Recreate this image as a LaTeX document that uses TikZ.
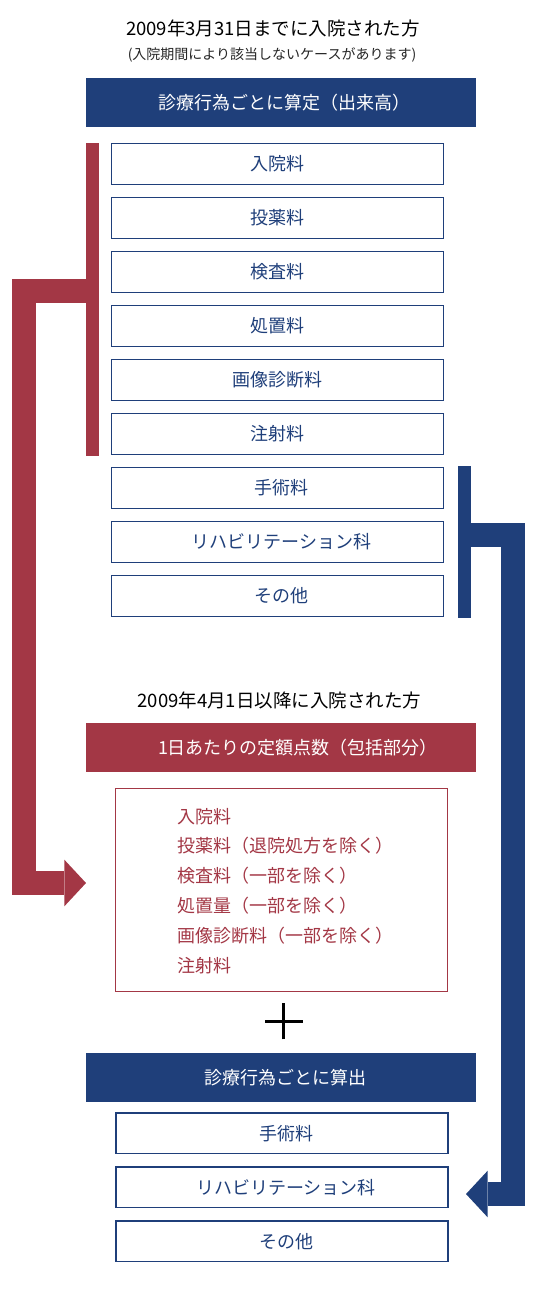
\documentclass[tikz,border=0pt]{standalone}
\usepackage{fontspec}
\setmainfont{Noto Sans CJK JP}
\usetikzlibrary{arrows.meta}
\definecolor{navy}{HTML}{1F3F7A}
\definecolor{wine}{HTML}{A33745}
\begin{document}
\begin{tikzpicture}[x=1pt,y=-1pt,
  hdrbase/.style={rectangle, minimum width=390pt, minimum height=48.7pt, inner sep=0pt, text=white, font=\fontsize{18pt}{21pt}\selectfont},
  bluehdr/.style={hdrbase, fill=navy},
  redhdr/.style={hdrbase, fill=wine},
  itembox/.style={rectangle, draw=navy, line width=1.2pt, minimum width=332pt, minimum height=40.8pt, inner sep=0pt, text=navy, font=\fontsize{18pt}{21pt}\selectfont},
  listline/.style={anchor=west, inner sep=0pt, text=wine, font=\fontsize{18pt}{21pt}\selectfont},
  titletext/.style={inner sep=0pt, text=black, font=\fontsize{18.5pt}{21pt}\selectfont},
  subtext/.style={inner sep=0pt, text=black!85, font=\fontsize{14pt}{17pt}\selectfont},
  barstyle/.style={rectangle, inner sep=0pt, minimum width=13pt},
  bigarrow/.style={line width=24pt, -{Triangle[length=21.7pt, width=46.7pt, line width=0pt]}}
]
\useasboundingbox (0,0) rectangle (542,1290);

% upper section
\node[titletext] (t1) at (273,28.5) {2009年3月31日までに入院された方};
\node[subtext] (t2) at (272,55) {(入院期間により該当しないケースがあります)};
\node[bluehdr] (h1) at (281,102.3) {\hspace*{6pt}診療行為ごとに算定（出来高）};

\node[itembox] (u1) at (277.7,164) {入院料};
\node[itembox] (u2) at (277.7,218) {投薬料};
\node[itembox] (u3) at (277.7,272) {検査料};
\node[itembox] (u4) at (277.7,326) {処置料};
\node[itembox] (u5) at (277.7,380) {画像診断料};
\node[itembox] (u6) at (277.7,434) {注射料};
\node[itembox] (u7) at (277.7,488) {\hspace*{8pt}手術料};
\node[itembox] (u8) at (277.7,542) {\hspace*{8pt}リハビリテーション科};
\node[itembox] (u9) at (277.7,596) {\hspace*{8pt}その他};

\node[barstyle, fill=wine, minimum height=312.7pt] (redbar) at (92.5,299.35) {};
\node[barstyle, fill=navy, minimum height=151.7pt] (bluebar) at (464.5,541.85) {};

% lower section
\node[titletext] (t3) at (279.3,700) {2009年4月1日以降に入院された方};
\node[redhdr] (h2) at (281,747.35) {\hspace*{34pt}1日あたりの定額点数（包括部分）};
\node[rectangle, draw=wine, line width=1pt, minimum width=332pt, minimum height=203pt, inner sep=0pt] (redbox) at (281.8,890.4) {};
\node[listline] (l1) at (177.5,816.3) {入院料};
\node[listline] (l2) at (177.5,846) {投薬料（退院処方を除く）};
\node[listline] (l3) at (177.5,876) {検査料（一部を除く）};
\node[listline] (l4) at (177.5,906) {処置量（一部を除く）};
\node[listline] (l5) at (177.5,936) {画像診断料（一部を除く）};
\node[listline] (l6) at (177.5,966) {注射料};

\coordinate (plus) at (283.8,1021);
\draw[line width=3pt, black] ([xshift=-18.8pt]plus) -- ([xshift=18.8pt]plus);
\draw[line width=3pt, black] ([yshift=-18.3pt]plus) -- ([yshift=18.3pt]plus);

\node[bluehdr] (h3) at (281,1077.35) {\hspace*{8pt}診療行為ごとに算出};
\node[itembox] (b1) at (282,1133.3) {\hspace*{8pt}手術料};
\node[itembox] (b2) at (282,1187.3) {\hspace*{8pt}リハビリテーション科};
\node[itembox] (b3) at (282,1241.3) {\hspace*{8pt}その他};

% connectors
\coordinate (rbend) at (24,291);
\coordinate (rtip) at (86,883);
\draw[wine, bigarrow] (redbar.west |- rbend) -- (rbend) |- (rtip);

\coordinate (bbend) at (513,534.7);
\coordinate (btip) at (466,1194);
\draw[navy, bigarrow] (bluebar.east |- bbend) -- (bbend) |- (btip);
\end{tikzpicture}
\end{document}
